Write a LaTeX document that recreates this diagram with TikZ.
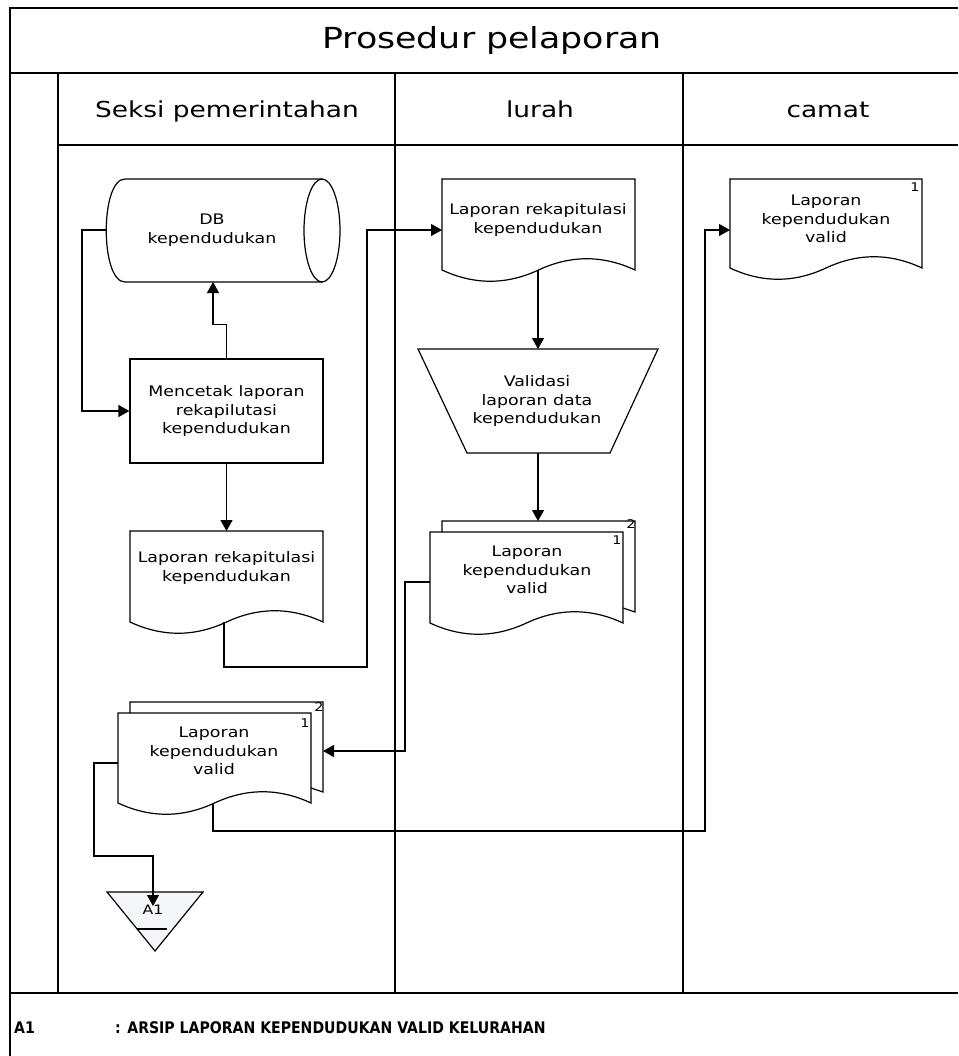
\documentclass[tikz,border=0pt]{standalone}
\usepackage{fontspec}
\usetikzlibrary{arrows.meta}
\newfontfamily\lbl[FakeStretch=1.2]{DejaVu Sans}
\newfontfamily\ftrfont[FakeStretch=0.88]{DejaVu Sans}
\definecolor{trifill}{RGB}{244,246,250}

% document outline: left, right, top, wave baseline
\newcommand\docshape[4]{%
  \pgfmathsetmacro\dw{(#2)-(#1)}%
  \draw[shp] (#1,#3) -- (#2,#3) -- (#2,#4)
    .. controls ({#2-\dw/6},{#4-15}) and ({#2-\dw/3},{#4-15}) .. ({#1+\dw/2},#4)
    .. controls ({#1+\dw/3},{#4+15}) and ({#1+\dw/6},{#4+15}) .. (#1,#4) -- cycle;
}
% second sheet behind a document: left, right, top, wave baseline of the front sheet
\newcommand\backsheet[4]{%
  \draw[shp] ({#1+12},#3) -- ({#1+12},{#3-11}) -- ({#2+12},{#3-11})
    -- ({#2+12},{#4-11}) -- (#2,{#4-15});
}

\tikzset{
  frm/.style={line width=1.3pt},
  conn/.style={line width=1.2pt},
  arr/.style={conn, -{Triangle[length=11pt,width=12pt]}},
  shp/.style={line width=1.2pt, fill=white},
  txt/.style={font=\lbl\fontsize{14.5}{18.5}\selectfont, align=center, inner sep=0pt},
  hdr/.style={font=\lbl\fontsize{22}{26}\selectfont, inner sep=0pt, anchor=base},
  ttl/.style={font=\lbl\fontsize{29}{34}\selectfont, inner sep=0pt, anchor=base},
  num/.style={font=\lbl\fontsize{12}{14}\selectfont, inner sep=0pt},
  ftr/.style={font=\ftrfont\bfseries\fontsize{16}{19}\selectfont, inner sep=0pt, anchor=base west},
}

\begin{document}
\begin{tikzpicture}[x=1pt,y=-1pt]
\useasboundingbox (0,0) rectangle (958,1056);
\fill[white] (0,0) rectangle (958,1056);

% swimlane frame
\draw[frm] (10,1056) -- (10,8) -- (958,8);
\draw[frm] (10,73) -- (958,73);
\draw[frm] (58,145) -- (958,145);
\draw[frm] (10,993) -- (958,993);
\draw[frm] (58,73) -- (58,993);
\draw[frm] (395,73) -- (395,993);
\draw[frm] (683,73) -- (683,993);

\node[ttl] (title) at (492,49) {Prosedur pelaporan};
\node[hdr] (lane1) at (227,118) {Seksi pemerintahan};
\node[hdr] (lane2) at (540,118) {lurah};
\node[hdr] (lane3) at (828,118) {camat};

% --- Seksi pemerintahan ---
% database (horizontal cylinder)
\draw[shp] (125,179) -- (322,179) -- (322,282) -- (125,282)
  .. controls (100,282) and (100,179) .. (125,179);
\draw[shp] (322,230.5) ellipse [x radius=18, y radius=51.5];
\node[txt] (db) at (212,230) {DB\\kependudukan};
\coordinate (dbW) at (106,230);
\coordinate (dbS) at (213,282);

% process
\node[shp, draw, rectangle, minimum width=193pt, minimum height=104pt, txt]
  (proc) at (226.5,411) {Mencetak laporan\\rekapilutasi\\kependudukan};

% printed report
\docshape{130}{323}{531}{622}
\node[txt] (rep1) at (226.5,568) {Laporan rekapitulasi\\kependudukan};
\coordinate (rep1N) at (226.5,531);
\coordinate (rep1S) at (224,622);

% validated report, two copies
\backsheet{118}{311}{713}{803}
\docshape{118}{311}{713}{803}
\node[txt] (val2) at (214,751) {Laporan\\kependudukan\\valid};
\node[num] (val2a) at (305,723) {1};
\node[num] (val2b) at (319,707) {2};
\coordinate (val2E) at (323,751);
\coordinate (val2W) at (118,763);
\coordinate (val2S) at (213,803);

% archive
\draw[shp, fill=trifill] (107,892) -- (203,892) -- (155,951) -- cycle;
\draw[conn] (137,929) -- (167,929);
\node[num, font=\lbl\fontsize{13}{15}\selectfont] (arsip) at (153,910) {A1};
\coordinate (arsipN) at (153,906);

% --- lurah ---
\docshape{442}{635}{179}{270}
\node[txt] (rep2) at (538,220) {Laporan rekapitulasi\\kependudukan};
\coordinate (rep2W) at (442,230);
\coordinate (rep2S) at (538,270);

% manual validation
\draw[shp] (418,349) -- (658,349) -- (610,453) -- (467,453) -- cycle;
\node[txt] (valid) at (537,401) {Validasi\\laporan data\\kependudukan};
\coordinate (validN) at (538,349);
\coordinate (validS) at (538,453);

\backsheet{430}{623}{532}{623}
\docshape{430}{623}{532}{623}
\node[txt] (val1) at (527,570) {Laporan\\kependudukan\\valid};
\node[num] (val1a) at (617,540) {1};
\node[num] (val1b) at (631,524) {2};
\coordinate (val1N) at (538,521);
\coordinate (val1W) at (430,582);

% --- camat ---
\docshape{730}{922}{179}{268}
\node[txt] (val3) at (826,219) {Laporan\\kependudukan\\valid};
\node[num] (val3a) at (915,187) {1};
\coordinate (val3W) at (730,230);

% flow
\draw[arr] (dbW) -- ++(-24,0) |- (proc.west);
\draw[arr] (proc.north) -- ++(0,-34) -| (dbS);
\draw[arr] (proc.south) -- (rep1N);
\draw[arr] (rep1S) -- ++(0,45) -- ++(143,0) |- (rep2W);
\draw[arr] (rep2S) -- (validN);
\draw[arr] (validS) -- (val1N);
\draw[arr] (val1W) -- ++(-25,0) |- (val2E);
\draw[arr] (val2S) -- ++(0,28) -- ++(492,0) |- (val3W);
\draw[arr] (val2W) -- ++(-24,0) -- ++(0,93) -| (arsipN);

% legend
\node[ftr] (key) at (14,1033) {A1};
\node[ftr] (keytext) at (115,1033) {: ARSIP LAPORAN KEPENDUDUKAN VALID KELURAHAN};
\end{tikzpicture}
\end{document}
